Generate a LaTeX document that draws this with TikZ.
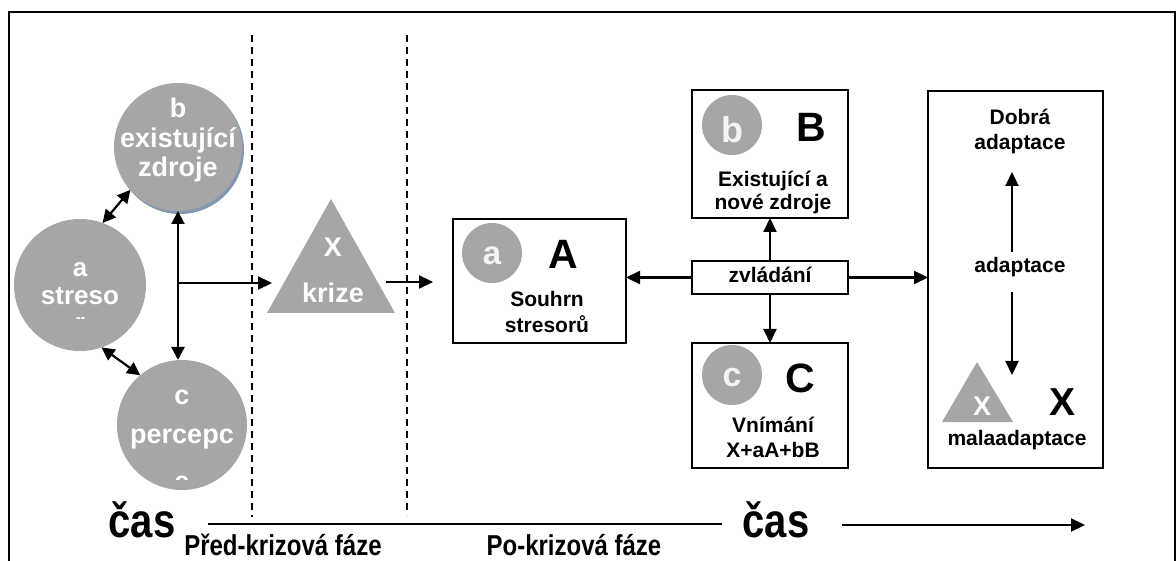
\documentclass[tikz,border=0pt]{standalone}
\usepackage{fontspec}
\usepackage{graphicx}
\setmainfont{Liberation Sans}
\usetikzlibrary{arrows.meta,calc}
\definecolor{gfill}{HTML}{A6A6A6}
\definecolor{shad}{HTML}{8497B0}
\definecolor{ltxt}{HTML}{F4F4F4}
\newcommand{\tallt}[1]{\scalebox{1}[1.2]{#1}}
\tikzset{
  every node/.style={inner sep=0pt, outer sep=0pt},
  fs/.style={font=\fontsize{#1}{#1}\selectfont\bfseries},
  wt/.style={text=white},
  gcirc/.style={circle, fill=gfill, minimum size=#1},
  box/.style={draw, line width=2pt, rectangle},
  arr/.style={line width=2.2pt, -{Triangle[length=14pt,width=13pt]}},
  darr/.style={line width=2.2pt, {Triangle[length=13pt,width=13pt]}-{Triangle[length=13pt,width=13pt]}},
  dline/.style={line width=1.5pt, dash pattern=on 7pt off 5pt},
}
\begin{document}
\begin{tikzpicture}[x=1pt,y=-1pt]
\useasboundingbox (0,0) rectangle (1176,561);
% frame
\draw[line width=2pt] (9,561) -- (9,12) -- (1175,12) -- (1175,561);
% dashed phase lines
\coordinate (d1t) at (252,35); \coordinate (d1b) at (252,517);
\coordinate (d2t) at (407,35); \coordinate (d2b) at (407,515);
\draw[dline] (d1t) -- (d1b);
\draw[dline] (d2t) -- (d2b);

% left cluster circles
\fill[shad] (180,150) circle (64);
\node[gcirc=128] (cb) at (178,147) {};
\node[gcirc=132] (ca) at (80,285) {};
\node[gcirc=130] (cc) at (182,425) {};
\node[fs=27,wt,anchor=base] (tb1) at (178,118) {b};
\node[fs=27,wt,anchor=base] (tb2) at (178,148) {existující};
\node[fs=27,wt,anchor=base] (tb3) at (178,177) {zdroje};
\begin{scope}
  \clip (0,0) rectangle (250,319);
  \node[fs=26,wt,anchor=base] (ta1) at (80,277) {a};
  \node[fs=26,wt,anchor=base] (ta2) at (80,305) {streso};
  \node[fs=26,wt,anchor=base] (ta3) at (80,332) {r};
\end{scope}
\begin{scope}
  \clip (0,300) rectangle (250,479);
  \node[fs=27,wt,anchor=base] (tc1) at (182,405) {c};
  \node[fs=27,wt,anchor=base] (tc2) at (182,443) {percepc};
  \node[fs=27,wt,anchor=base] (tc3) at (182,490) {e};
\end{scope}
\draw[darr] (ca.70) -- (cb.222);
\draw[darr] (ca.289) -- (cc.130);
\draw[darr] (cb.south) -- (cb.south |- cc.north);
\coordinate (j) at (178,283);
\coordinate (kin) at (272,283);
\draw[arr] (j) -- (kin);

% crisis triangle
\fill[gfill] (331,199) -- (395,313) -- (267,313) -- cycle;
\node[fs=27,wt,anchor=base] (tx) at (333,257) {X};
\node[fs=27,wt,anchor=base] (tkr) at (333,303) {krize};
\coordinate (kout1) at (386,282);
\coordinate (kout2) at (433,282);
\draw[arr] (kout1) -- (kout2);

% box A
\node[box, minimum width=173pt, minimum height=124pt] (A) at (539.5,281) {};
\node[gcirc=60] (sa) at (492,253) {};
\node[fs=33,text=ltxt,anchor=base] (tsa) at (492,265) {a};
\node[fs=41,anchor=base] (tA) at (563,269) {A};
\node[fs=21,anchor=base] (tA1) at (547,307) {Souhrn};
\node[fs=21,anchor=base] (tA2) at (547,333) {stresorů};

% box B
\node[box, minimum width=156pt, minimum height=128pt] (B) at (770,154) {};
\node[gcirc=60] (sb) at (732,125) {};
\node[fs=36,text=ltxt,anchor=base] (tsb) at (732,143) {b};
\node[fs=41,anchor=base] (tB) at (811,142) {B};
\node[fs=21,anchor=base] (tB1) at (773,187) {Existující a};
\node[fs=21,anchor=base] (tB2) at (773,210) {nové zdroje};

% coping box
\node[box, minimum width=156pt, minimum height=33pt] (zv) at (770,277.5) {};
\node[fs=21,anchor=base] (tzv) at (770,283) {zvládání};

% box C
\node[box, minimum width=156pt, minimum height=125pt] (C) at (770,405.5) {};
\node[gcirc=60] (sc) at (732,375) {};
\node[fs=34,text=ltxt,anchor=base] (tsc) at (732,387) {c};
\node[fs=41,anchor=base] (tC) at (800,392) {C};
\node[fs=21,anchor=base] (tC1) at (773,432) {Vnímání};
\node[fs=21,anchor=base] (tC2) at (773,457) {X+aA+bB};

% right box
\node[box, minimum width=175pt, minimum height=377pt] (R) at (1015.5,279.5) {};
\node[fs=21,anchor=base] (tR1) at (1020,125) {Dobrá};
\node[fs=21,anchor=base] (tR2) at (1020,150) {adaptace};
\node[fs=21,anchor=base] (tR3) at (1020,273) {adaptace};
\fill[gfill] (977,362) -- (1013,422) -- (942,422) -- cycle;
\node[fs=27,wt,anchor=base] (tsx) at (982,415) {X};
\node[fs=39,anchor=base] (tX) at (1062,415) {X};
\node[fs=21,anchor=base] (tR4) at (1017,445) {malaadaptace};
\coordinate (u1) at (1012,252); \coordinate (u2) at (1012,172);
\coordinate (w1) at (1012,292); \coordinate (w2) at (1012,375);
\draw[arr] (u1) -- (u2);
\draw[arr] (w1) -- (w2);

% connectors from coping
\draw[arr] (zv.west) -- (zv.west -| A.east);
\draw[arr] (zv.east) -- (zv.east -| R.west);
\draw[arr] (zv.north) -- (B.south);
\draw[arr] (zv.south) -- (C.north);

% time axis
\node[fs=40,anchor=base] (cas1) at (142,537) {\tallt{čas}};
\node[fs=40,anchor=base] (cas2) at (776,537) {\tallt{čas}};
\coordinate (t1) at (208,524); \coordinate (t2) at (722,524);
\draw[line width=2.2pt] (t1) -- (t2);
\coordinate (t3) at (842,525); \coordinate (t4) at (1085,525);
\draw[arr] (t3) -- (t4);
\node[fs=24,anchor=base] (ph1) at (283,555) {\tallt{Před-krizová fáze}};
\node[fs=24,anchor=base] (ph2) at (574,555) {\tallt{Po-krizová fáze}};
\end{tikzpicture}
\end{document}
